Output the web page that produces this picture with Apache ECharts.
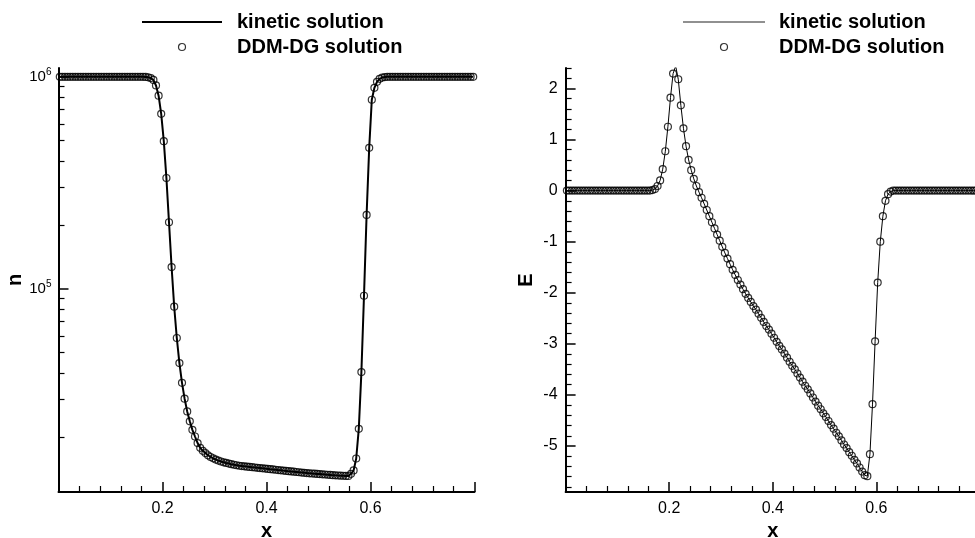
<!DOCTYPE html>
<html><head><meta charset="utf-8">
<script src="https://cdn.jsdelivr.net/npm/echarts@6/dist/echarts.min.js"></script>
<style>html,body{margin:0;padding:0;background:#fff}#c{width:975px;height:538px}</style>
</head><body><div id="c"></div>
<script>
const FONT = "'Liberation Sans', Arial, Helvetica, sans-serif";

const xs = [
0.0025,0.0075,0.0125,0.0175,0.0225,0.0275,0.0325,0.0375,0.0425,0.0475,
0.0525,0.0575,0.0625,0.0675,0.0725,0.0775,0.0825,0.0875,0.0925,0.0975,
0.1025,0.1075,0.1125,0.1175,0.1225,0.1275,0.1325,0.1375,0.1425,0.1475,
0.1525,0.1575,0.1625,0.1675,0.1725,0.1775,0.1825,0.1875,0.1925,0.1975,
0.2025,0.2075,0.2125,0.2175,0.2225,0.2275,0.2325,0.2375,0.2425,0.2475,
0.2525,0.2575,0.2625,0.2675,0.2725,0.2775,0.2825,0.2875,0.2925,0.2975,
0.3025,0.3075,0.3125,0.3175,0.3225,0.3275,0.3325,0.3375,0.3425,0.3475,
0.3525,0.3575,0.3625,0.3675,0.3725,0.3775,0.3825,0.3875,0.3925,0.3975,
0.4025,0.4075,0.4125,0.4175,0.4225,0.4275,0.4325,0.4375,0.4425,0.4475,
0.4525,0.4575,0.4625,0.4675,0.4725,0.4775,0.4825,0.4875,0.4925,0.4975,
0.5025,0.5075,0.5125,0.5175,0.5225,0.5275,0.5325,0.5375,0.5425,0.5475,
0.5525,0.5575,0.5625,0.5675,0.5725,0.5775,0.5825,0.5875,0.5925,0.5975,
0.6025,0.6075,0.6125,0.6175,0.6225,0.6275,0.6325,0.6375,0.6425,0.6475,
0.6525,0.6575,0.6625,0.6675,0.6725,0.6775,0.6825,0.6875,0.6925,0.6975,
0.7025,0.7075,0.7125,0.7175,0.7225,0.7275,0.7325,0.7375,0.7425,0.7475,
0.7525,0.7575,0.7625,0.7675,0.7725,0.7775,0.7825,0.7875,0.7925,0.7975];

// density n (left panel); kinetic and DDM-DG coincide at the plotted scale
const nValues = [
1000000,1000000,1000000,1000000,1000000,1000000,1000000,1000000,1000000,1000000,
1000000,1000000,1000000,1000000,1000000,1000000,1000000,1000000,1000000,1000000,
1000000,1000000,1000000,1000000,1000000,1000000,1000000,1000000,1000000,1000000,
1000000,1000000,1000000,998000,994000,986000,966000,910000,814000,669000,
497000,333000,206000,126600,82300,58600,44600,36000,30300,26400,
23700,21600,20100,18720,17780,17210,16790,16390,16090,15850,
15640,15470,15320,15190,15080,14980,14880,14790,14710,14630,
14580,14535,14490,14445,14400,14355,14310,14265,14220,14180,
14135,14090,14050,14005,13960,13920,13875,13835,13790,13750,
13710,13670,13630,13590,13550,13510,13480,13450,13420,13390,
13360,13330,13300,13270,13240,13210,13180,13160,13140,13120,
13100,13090,13400,13900,15830,21850,40460,92700,223000,462000,
779000,887000,947000,978000,991000,997000,1000000,1000000,1000000,1000000,
1000000,1000000,1000000,1000000,1000000,1000000,1000000,1000000,1000000,1000000,
1000000,1000000,1000000,1000000,1000000,1000000,1000000,1000000,1000000,1000000,
1000000,1000000,1000000,1000000,1000000,1000000,1000000,1000000,1000000,1000000];

// electric field E (right panel), kinetic solution
const eKinetic = [
0,0,0,0,0,0,0,0,0,0,
0,0,0,0,0,0,0,0,0,0,
0,0,0,0,0,0,0,0,0,0,
0,0,0,0.01,0.03,0.09,0.20,0.42,0.77,1.25,
1.82,2.29,2.44,2.18,1.67,1.22,0.87,0.60,0.40,0.23,
0.09,-0.03,-0.14,-0.26,-0.38,-0.50,-0.62,-0.74,-0.86,-0.98,
-1.10,-1.22,-1.33,-1.44,-1.55,-1.65,-1.75,-1.84,-1.93,-2.02,
-2.10,-2.18,-2.26,-2.33,-2.41,-2.49,-2.57,-2.65,-2.72,-2.80,
-2.88,-2.96,-3.04,-3.11,-3.19,-3.27,-3.35,-3.43,-3.50,-3.58,
-3.66,-3.74,-3.82,-3.89,-3.97,-4.05,-4.13,-4.21,-4.28,-4.36,
-4.43,-4.51,-4.59,-4.66,-4.74,-4.81,-4.89,-4.97,-5.04,-5.12,
-5.19,-5.27,-5.34,-5.42,-5.50,-5.57,-5.59,-5.16,-4.18,-2.95,
-1.80,-1.00,-0.50,-0.20,-0.07,-0.02,0,0,0,0,
0,0,0,0,0,0,0,0,0,0,
0,0,0,0,0,0,0,0,0,0,
0,0,0,0,0,0,0,0,0,0];

// electric field E (right panel), DDM-DG solution (no marker at the peak point)
const eDG = [
0,0,0,0,0,0,0,0,0,0,
0,0,0,0,0,0,0,0,0,0,
0,0,0,0,0,0,0,0,0,0,
0,0,0,0.01,0.03,0.09,0.20,0.42,0.77,1.25,
1.82,2.29,null,2.18,1.67,1.22,0.87,0.60,0.40,0.23,
0.09,-0.03,-0.14,-0.26,-0.38,-0.50,-0.62,-0.74,-0.86,-0.98,
-1.10,-1.22,-1.33,-1.44,-1.55,-1.65,-1.75,-1.84,-1.93,-2.02,
-2.10,-2.18,-2.26,-2.33,-2.41,-2.49,-2.57,-2.65,-2.72,-2.80,
-2.88,-2.96,-3.04,-3.11,-3.19,-3.27,-3.35,-3.43,-3.50,-3.58,
-3.66,-3.74,-3.82,-3.89,-3.97,-4.05,-4.13,-4.21,-4.28,-4.36,
-4.43,-4.51,-4.59,-4.66,-4.74,-4.81,-4.89,-4.97,-5.04,-5.12,
-5.19,-5.27,-5.34,-5.42,-5.50,-5.57,-5.59,-5.16,-4.18,-2.95,
-1.80,-1.00,-0.50,-0.20,-0.07,-0.02,0,0,0,0,
0,0,0,0,0,0,0,0,0,0,
0,0,0,0,0,0,0,0,0,0,
0,0,0,0,0,0,0,0,0,0];

const xLabelTicks = [0.2, 0.4, 0.6];
const nLabelTicks = [100000, 1000000];
const nMinorTicks = [20000,30000,40000,50000,60000,70000,80000,90000,
                     200000,300000,400000,500000,600000,700000,800000,900000];
const eLabelTicks = [-5,-4,-3,-2,-1,0,1,2];
const eMinorTicks = [-5.8,-5.6,-5.4,-5.2,-4.8,-4.6,-4.4,-4.2,-3.8,-3.6,-3.4,-3.2,
                     -2.8,-2.6,-2.4,-2.2,-1.8,-1.6,-1.4,-1.2,-0.8,-0.6,-0.4,-0.2,
                     0.2,0.4,0.6,0.8,1.2,1.4,1.6,1.8,2.2,2.4];
const seriesNames = ['kinetic solution', 'DDM-DG solution'];

function pairs(x, y) {
  const out = [];
  for (let i = 0; i < x.length; i++) if (y[i] != null) out.push([x[i], y[i]]);
  return out;
}

const black = '#000';
const labelBase = { color: black, fontFamily: FONT, fontSize: 16 };
const nameStyle = { color: black, fontFamily: FONT, fontSize: 20, fontWeight: 'bold' };
const legendText = { color: black, fontFamily: FONT, fontSize: 20, fontWeight: 'bold' };
const markerStyle = { color: 'rgba(0,0,0,0)', borderColor: black, borderWidth: 1.2 };

function xAxisCfg(grid) {
  return {
    type: 'value', gridIndex: grid, min: 0, max: 0.8, interval: 0.2,
    name: 'x', nameLocation: 'middle', nameGap: 24, nameTextStyle: nameStyle,
    axisLine: { show: true, onZero: false, lineStyle: { color: black, width: 2 } },
    axisTick: { show: true, inside: true, length: 10, lineStyle: { color: black, width: 1.5 } },
    minorTick: { show: true, splitNumber: 5, length: 6, lineStyle: { color: black, width: 1.2 } },
    axisLabel: Object.assign({ customValues: xLabelTicks, margin: 9,
      formatter: v => v.toFixed(1) }, labelBase),
    splitLine: { show: false }, minorSplitLine: { show: false }
  };
}

const chart = echarts.init(document.getElementById('c'), null, { renderer: 'canvas' });
chart.setOption({
  animation: false,
  backgroundColor: '#fff',
  grid: [
    { left: 58.5, top: 68, width: 416, height: 424, outerBoundsMode: 'none', containLabel: false },
    { left: 565.6, top: 68, width: 414.4, height: 424, outerBoundsMode: 'none', containLabel: false }
  ],
  legend: [
    { left: 137, top: 7, orient: 'vertical', itemWidth: 80, itemHeight: 7, itemGap: 5,
      selectedMode: false,
      data: [
        { name: seriesNames[0], icon: 'path://M0,0H80V2H0Z', itemStyle: { color: black, borderWidth: 0 } },
        { name: seriesNames[1], icon: 'circle', itemStyle: { color: 'rgba(0,0,0,0)', borderColor: black, borderWidth: 1.2 } }
      ],
      textStyle: Object.assign({ padding: [0, 0, 0, 10] }, legendText) },
    { left: 678, top: 7, orient: 'vertical', itemWidth: 82, itemHeight: 7, itemGap: 5,
      selectedMode: false,
      data: [
        { name: seriesNames[0], icon: 'path://M0,0H82V1H0Z', itemStyle: { color: '#222', borderWidth: 0 } },
        { name: seriesNames[1], icon: 'circle', itemStyle: { color: 'rgba(0,0,0,0)', borderColor: black, borderWidth: 1.2 } }
      ],
      textStyle: Object.assign({ padding: [0, 0, 0, 9] }, legendText) }
  ],
  xAxis: [xAxisCfg(0), xAxisCfg(1)],
  yAxis: [
    { type: 'log', logBase: 10, gridIndex: 0, min: 11000, max: 1100000, position: 'left',
      name: 'n', nameLocation: 'middle', nameGap: 32, nameTextStyle: nameStyle,
      axisLine: { show: true, onZero: false, lineStyle: { color: black, width: 2 } },
      axisTick: { show: true, inside: true, length: 10, customValues: nLabelTicks, lineStyle: { color: black, width: 1.5 } },
      axisLabel: { customValues: nLabelTicks, margin: 7,
        formatter: v => '{b|10}{s|' + Math.round(Math.log10(v)) + '}',
        rich: { b: { fontSize: 15, color: black, fontFamily: FONT },
                s: { fontSize: 10, color: black, fontFamily: FONT, padding: [0, 0, 9, 0] } } },
      splitLine: { show: false } },
    { type: 'log', logBase: 10, gridIndex: 0, min: 11000, max: 1100000, position: 'left', offset: 0,
      axisLine: { show: false },
      axisTick: { show: true, inside: true, length: 6, customValues: nMinorTicks, lineStyle: { color: black, width: 1.2 } },
      axisLabel: { show: false }, splitLine: { show: false } },
    { type: 'value', gridIndex: 1, min: -5.9, max: 2.4, position: 'left',
      name: 'E', nameLocation: 'middle', nameGap: 29, nameTextStyle: nameStyle,
      axisLine: { show: true, onZero: false, lineStyle: { color: black, width: 2 } },
      axisTick: { show: true, inside: true, length: 10, customValues: eLabelTicks, lineStyle: { color: black, width: 1.5 } },
      axisLabel: Object.assign({ customValues: eLabelTicks, margin: 8 }, labelBase),
      splitLine: { show: false } },
    { type: 'value', gridIndex: 1, min: -5.9, max: 2.4, position: 'left', offset: 0,
      axisLine: { show: false },
      axisTick: { show: true, inside: true, length: 6, customValues: eMinorTicks, lineStyle: { color: black, width: 1.2 } },
      axisLabel: { show: false }, splitLine: { show: false } }
  ],
  series: [
    { name: seriesNames[0], type: 'line', xAxisIndex: 0, yAxisIndex: 0, data: pairs(xs, nValues),
      symbol: 'none', lineStyle: { color: black, width: 2 }, itemStyle: { color: black }, z: 3 },
    { name: seriesNames[1], type: 'scatter', xAxisIndex: 0, yAxisIndex: 0, data: pairs(xs, nValues),
      symbol: 'circle', symbolSize: 7, itemStyle: markerStyle, z: 2 },
    { name: seriesNames[0], type: 'line', xAxisIndex: 1, yAxisIndex: 2, data: pairs(xs, eKinetic),
      symbol: 'none', lineStyle: { color: black, width: 1 }, itemStyle: { color: black }, z: 3 },
    { name: seriesNames[1], type: 'scatter', xAxisIndex: 1, yAxisIndex: 2, data: pairs(xs, eDG),
      symbol: 'circle', symbolSize: 7, itemStyle: markerStyle, z: 2 }
  ]
});
</script></body></html>
